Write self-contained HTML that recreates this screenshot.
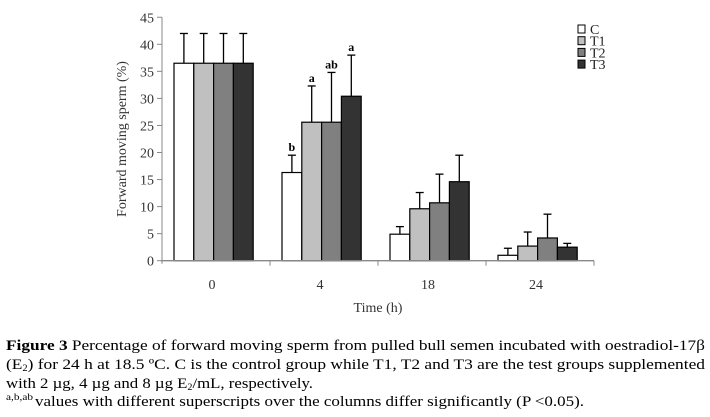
<!DOCTYPE html>
<html><head><meta charset="utf-8"><style>
body{margin:0;background:#fff;width:710px;height:417px;overflow:hidden;font-family:"Liberation Serif",serif;}
svg{position:absolute;left:0;top:0}
</style></head><body>
<svg id="chart" width="710" height="320" font-family="Liberation Serif, serif"></svg>
<svg width="710" height="417" style="top:0" font-family="Liberation Serif, serif" font-size="15">
<text x="6" y="350" textLength="699" lengthAdjust="spacingAndGlyphs"><tspan font-weight="bold">Figure 3</tspan> Percentage of forward moving sperm from pulled bull semen incubated with oestradiol-17β</text>
<text x="6" y="369" textLength="699" lengthAdjust="spacingAndGlyphs">(E<tspan font-size="9" dy="2">2</tspan><tspan dy="-2">) for 24 h at 18.5 ºC. C is the control group while T1, T2 and T3 are the test groups supplemented</tspan></text>
<text x="6" y="388" textLength="307" lengthAdjust="spacingAndGlyphs">with 2 µg, 4 µg and 8 µg E<tspan font-size="9" dy="2">2</tspan><tspan dy="-2">/mL, respectively.</tspan></text>
<text x="6" y="400" font-size="9" textLength="27" lengthAdjust="spacingAndGlyphs">a,b,ab</text>
<text x="35" y="406" textLength="549" lengthAdjust="spacingAndGlyphs">values with different superscripts over the columns differ significantly (P &lt;0.05).</text>
</svg>
<script>
const categories=["0","4","18","24"];
const series=["C","T1","T2","T3"];
const colors=["#ffffff","#c0c0c0","#808080","#333333"];
const valC=[36.5,16.3,4.9,1.0];
const valT1=[36.5,25.6,9.6,2.7];
const valT2=[36.5,25.6,10.7,4.2];
const valT3=[36.5,30.4,14.6,2.5];
const errC=[42,19.5,6.3,2.3];
const errT1=[42,32.3,12.6,5.3];
const errT2=[42,34.8,16,8.6];
const errT3=[42,38,19.5,3.2];
const sigC=["","b","",""];
const sigT1=["","a","",""];
const sigT2=["","ab","",""];
const sigT3=["","a","",""];
const yTicks=[0,5,10,15,20,25,30,35,40,45];
const vals=[valC,valT1,valT2,valT3],errs=[errC,errT1,errT2,errT3],sigs=[sigC,sigT1,sigT2,sigT3];
const svg=document.getElementById('chart');const NS='http://www.w3.org/2000/svg';
const x0=162,cw=108,y0=260.7,ppu=5.41,bw=19.8,off=12;
const Y=v=>y0-v*ppu;const X=(ci,si)=>x0+ci*cw+off+si*bw;
function mk(t,a,txt){const e=document.createElementNS(NS,t);for(const k in a)e.setAttribute(k,a[k]);if(txt!==undefined)e.textContent=txt;svg.appendChild(e);return e;}
let e;
yTicks.forEach(t=>{
e=mk('line',{x1:157,x2:162,y1:Y(t),y2:Y(t),stroke:'#888'});


e=mk('text',{x:154,y:Y(t)+5,'text-anchor':'end','font-size':14,fill:'#333'},t);


});
categories.forEach((c,ci)=>{
series.forEach((s,si)=>{
const v=vals[si][ci],er=errs[si][ci],x=X(ci,si),cx=x+bw/2;
e=mk('line',{x1:cx,x2:cx,y1:Y(v),y2:Y(er),stroke:'#000','stroke-width':1.3});


e=mk('line',{x1:cx-4,x2:cx+4,y1:Y(er),y2:Y(er),stroke:'#000','stroke-width':1.3});


e=mk('rect',{x:x,y:Y(v),width:bw,height:v*ppu,fill:colors[si],stroke:'#000','stroke-width':1.2});


if(sigs[si][ci]){e=mk('text',{x:cx,y:Y(er)-4,'text-anchor':'middle','font-size':12,'font-weight':'bold'},sigs[si][ci]);

}
});
e=mk('text',{x:x0+ci*cw+cw/2-4,y:289,'text-anchor':'middle','font-size':14,fill:'#333'},c);


if(ci>0){e=mk('line',{x1:x0+ci*cw,x2:x0+ci*cw,y1:y0,y2:y0+5,stroke:'#888'});

}
});
e=mk('line',{x1:x0,x2:x0,y1:Y(45),y2:y0+3,stroke:'#888'});


e=mk('line',{x1:x0-1,x2:594,y1:y0,y2:y0,stroke:'#888','stroke-width':1.3});


e=mk('line',{x1:594,x2:594,y1:y0,y2:y0+5,stroke:'#888'});


e=mk('text',{x:0,y:0,'text-anchor':'middle','font-size':14,fill:'#333',transform:'translate(126,139) rotate(-90)'},'Forward moving sperm (%)');


e=mk('text',{x:378,y:312,'text-anchor':'middle','font-size':14,fill:'#333'},'Time (h)');


series.forEach((s,si)=>{
const ly=25+si*11.7;
e=mk('rect',{x:578,y:ly,width:7,height:8,fill:colors[si],stroke:'#000'});


e=mk('text',{x:590,y:ly+9,'font-size':14,fill:'#222'},s);


});
</script>
</body></html>
